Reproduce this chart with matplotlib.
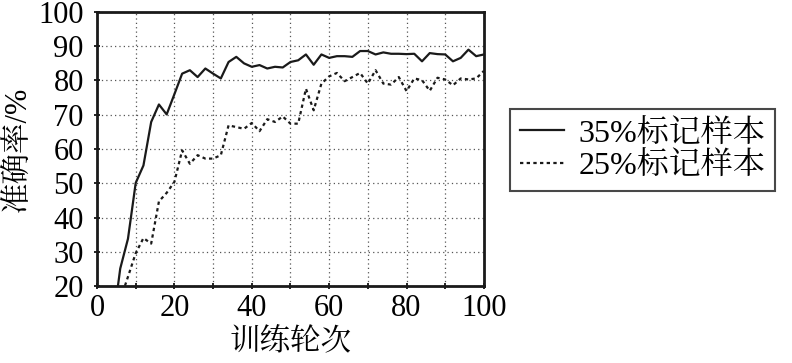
import matplotlib
matplotlib.use("Agg")
import matplotlib.pyplot as plt

NUM_FONT = "Liberation Serif"
MIX_FONT = ["Liberation Serif", "Noto Serif CJK JP"]

# epochs (every 2)
epochs = list(range(4, 101, 2))

acc_35 = [8, 25.1, 33.8, 50.1, 55.2, 67.9, 73.0, 70.1, 76.0, 82.0,
          83.0, 81.0, 83.5, 82.0, 80.6, 85.4, 86.9, 85.0, 84.0, 84.5,
          83.5, 84.0, 83.8, 85.4, 85.9, 87.6, 84.6, 87.6, 86.6, 87.1,
          87.1, 86.9, 88.6, 88.6, 87.6, 88.2, 87.8, 87.8, 87.7, 87.8,
          85.6, 88.0, 87.7, 87.6, 85.6, 86.6, 89.0, 87.1, 87.6]

acc_25 = [5, 16, 22.7, 29.6, 34.0, 32.4, 44.7, 47.2, 50.4, 59.6,
          55.7, 58.2, 57.2, 57.2, 58.2, 66.9, 66.4, 65.9, 67.6, 65.2,
          68.7, 67.9, 69.5, 67.4, 67.4, 77.6, 71.3, 79.1, 81.2, 82.2,
          79.8, 81.0, 82.2, 79.1, 83.0, 79.1, 78.8, 81.0, 76.9, 80.6,
          80.1, 77.0, 80.8, 80.3, 78.6, 80.6, 80.3, 80.6, 82.8]

xticks = list(range(0, 101, 10))
xlabels = [str(v) if v % 20 == 0 else "" for v in xticks]
yticks = list(range(20, 101, 10))

fig = plt.figure(figsize=(7.92, 3.63), dpi=100)
ax = fig.add_axes([0.1225, 0.212, 0.4885, 0.755])

ax.plot(epochs, acc_35, color="#1a1a1a", linewidth=1.6, linestyle="-", label="35%标记样本")
ax.plot(epochs, acc_25, color="#1a1a1a", linewidth=1.6, linestyle=(0, (1.5, 1.5)), label="25%标记样本")

ax.set_xlim(0, 100)
ax.set_ylim(20, 100)
ax.set_xticks(xticks)
ax.set_xticklabels(xlabels, family=NUM_FONT, fontsize=22)
ax.set_yticks(yticks)
ax.set_yticklabels([str(v) for v in yticks], family=NUM_FONT, fontsize=22)

ax.grid(True, linestyle=(0, (1, 2.5)), color="#555555", linewidth=0.9)
ax.tick_params(axis="both", direction="inout", length=5, width=1.2)
ax.tick_params(axis="y", pad=7)
ax.tick_params(axis="x", pad=3)

for sp in ax.spines.values():
    sp.set_linewidth(2)
    sp.set_color("#1a1a1a")

ax.set_xlabel("训练轮次", family=MIX_FONT, fontsize=22, labelpad=3)
ax.set_ylabel("准确率/%", family=MIX_FONT, fontsize=22, labelpad=4)

leg = fig.legend(loc="center", bbox_to_anchor=(0.8113, 0.5868), frameon=True,
                 fancybox=False, edgecolor="#1a1a1a", handlelength=1.4,
                 handletextpad=0.45, borderpad=0.3, labelspacing=0.1,
                 prop={"family": MIX_FONT, "size": 23})
leg.get_frame().set_linewidth(1.5)

fig.savefig("out.png", dpi=100)
